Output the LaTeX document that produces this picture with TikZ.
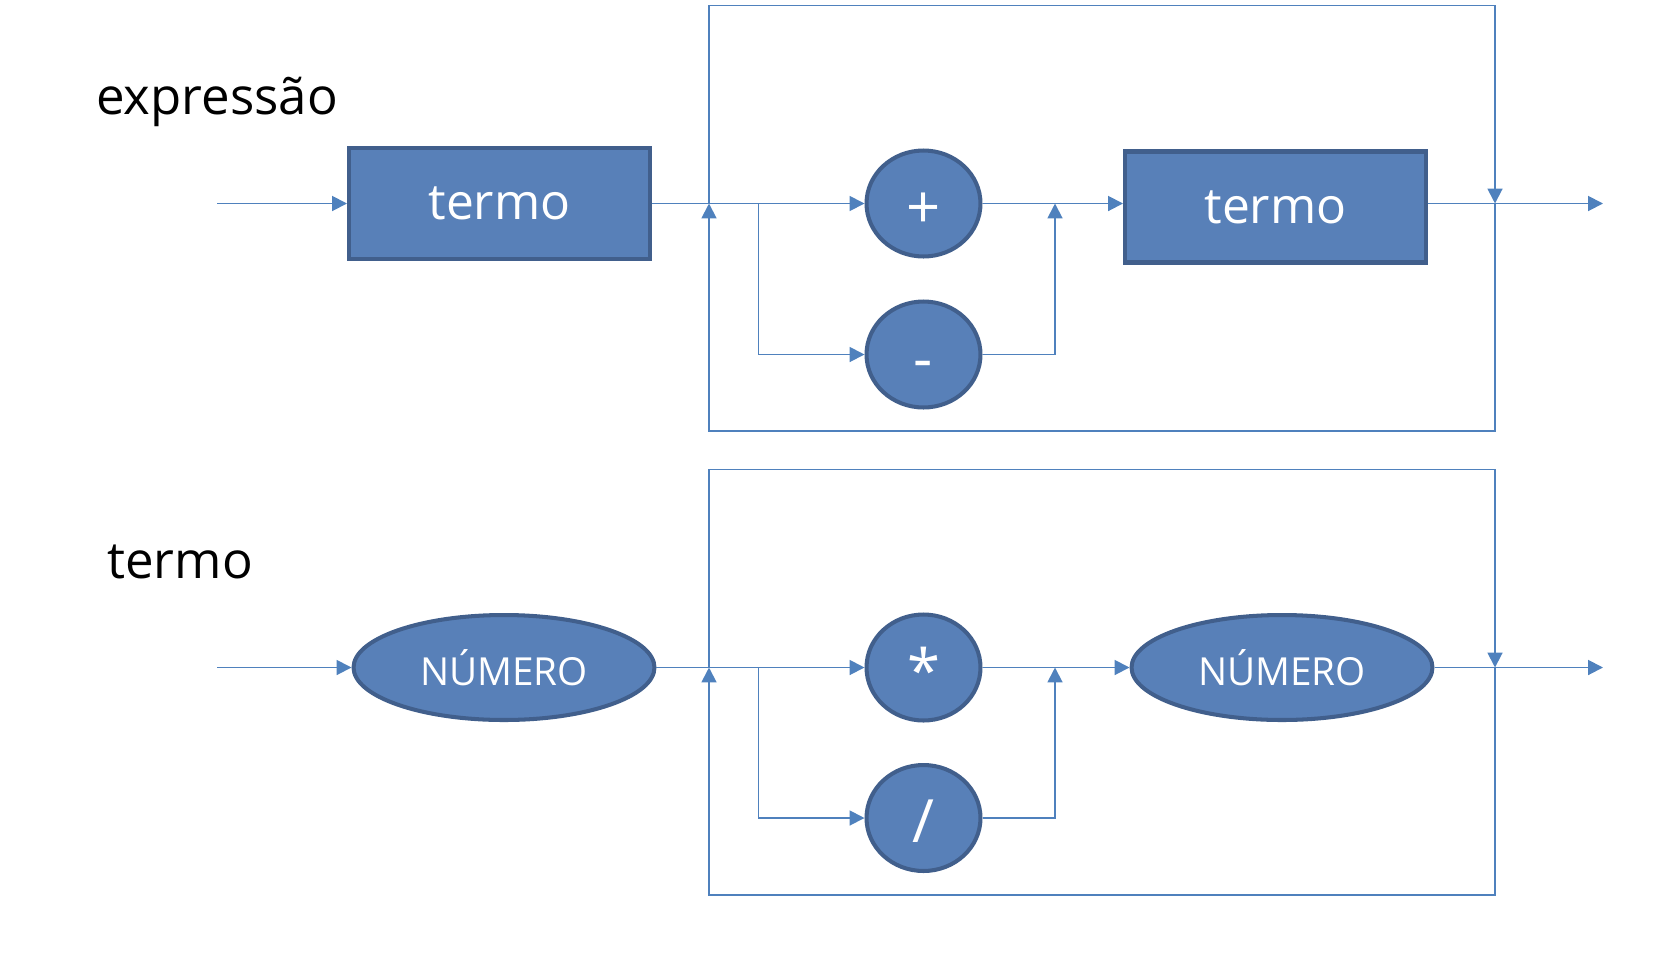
\documentclass[tikz,border=0pt]{standalone}
\usepackage{fontspec}
\setmainfont{Open Sans}
\usetikzlibrary{arrows.meta,shapes.geometric}
\definecolor{preench}{HTML}{5880B8}
\definecolor{borda}{HTML}{415F8C}
\definecolor{azul}{HTML}{4F81BD}
\begin{document}
\begin{tikzpicture}[x=0.02cm,y=-0.02cm,
  fio/.style={draw=azul,line width=1.1pt},
  seta/.style={fio,-{Triangle[length=8.5pt,width=8.5pt]}},
  caixa/.style={draw=borda,fill=preench,line width=2.3pt,text=white,inner sep=0pt,
    minimum width=6.02cm,minimum height=2.22cm,font=\fontsize{28.3}{33}\selectfont},
  oval/.style={ellipse,draw=borda,fill=preench,line width=2.3pt,text=white,inner sep=0pt,
    minimum width=6.02cm,minimum height=2.1cm,font=\fontsize{22}{26}\selectfont},
  oper/.style={ellipse,draw=borda,fill=preench,line width=2.3pt,text=white,inner sep=0pt,
    minimum width=2.28cm,minimum height=2.12cm,text height=28pt,text depth=0pt,
    font=\fontsize{34}{40}\selectfont},
  rotulo/.style={inner sep=0pt,font=\fontsize{29}{34}\selectfont}]
\useasboundingbox (0,0) rectangle (1680,954);
% expressao
\node[rotulo,anchor=base west] (lexpr) at (96,114) {expressão};
\node[caixa] (t1) at (499.5,203.5) {termo};
\node[oper] (mais) at (923.5,203.5) {+};
\node[oper] (menos) at (923.5,354.5) {-};
\node[caixa] (t2) at (1275.5,207) {termo};
\coordinate (ini1) at (217,203.5);
\coordinate (fim1) at (1603,203.5);
\coordinate (desv1) at (758.5,203.5);
\coordinate (junta1) at (1055,203.5);
\coordinate (volE1) at (709,203.5);
\coordinate (volD1) at (1495,203.5);
\draw[seta] (ini1) -- (t1.west);
\draw[seta] (t1.east) -- (mais.west);
\draw[seta] (desv1) |- (menos.west);
\draw[seta] (menos.east) -| (junta1);
\draw[seta] (mais.east) -- (t2.west |- fim1);
\draw[seta] (t2.east |- fim1) -- (fim1);
\draw[seta] (volE1) |- (1495,5.5) -- (volD1);
\draw[seta] (volD1) |- (709,431) -- (volE1);
% termo
\node[rotulo,anchor=base west] (lterm) at (107,578) {termo};
\node[oval] (n1) at (504,667.5) {NÚMERO};
\node[oper] (vez) at (923.5,667.5) {*};
\node[oper] (div) at (923.5,818) {/};
\node[oval] (n2) at (1282,667.5) {NÚMERO};
\coordinate (ini2) at (217,667.5);
\coordinate (fim2) at (1603,667.5);
\coordinate (desv2) at (758.5,667.5);
\coordinate (junta2) at (1055,667.5);
\coordinate (volE2) at (709,667.5);
\coordinate (volD2) at (1495,667.5);
\draw[seta] (ini2) -- (n1.west);
\draw[seta] (n1.east) -- (vez.west);
\draw[seta] (desv2) |- (div.west);
\draw[seta] (div.east) -| (junta2);
\draw[seta] (vez.east) -- (n2.west);
\draw[seta] (n2.east) -- (fim2);
\draw[seta] (volE2) |- (1495,469.5) -- (volD2);
\draw[seta] (volD2) |- (709,895) -- (volE2);
\end{tikzpicture}
\end{document}
